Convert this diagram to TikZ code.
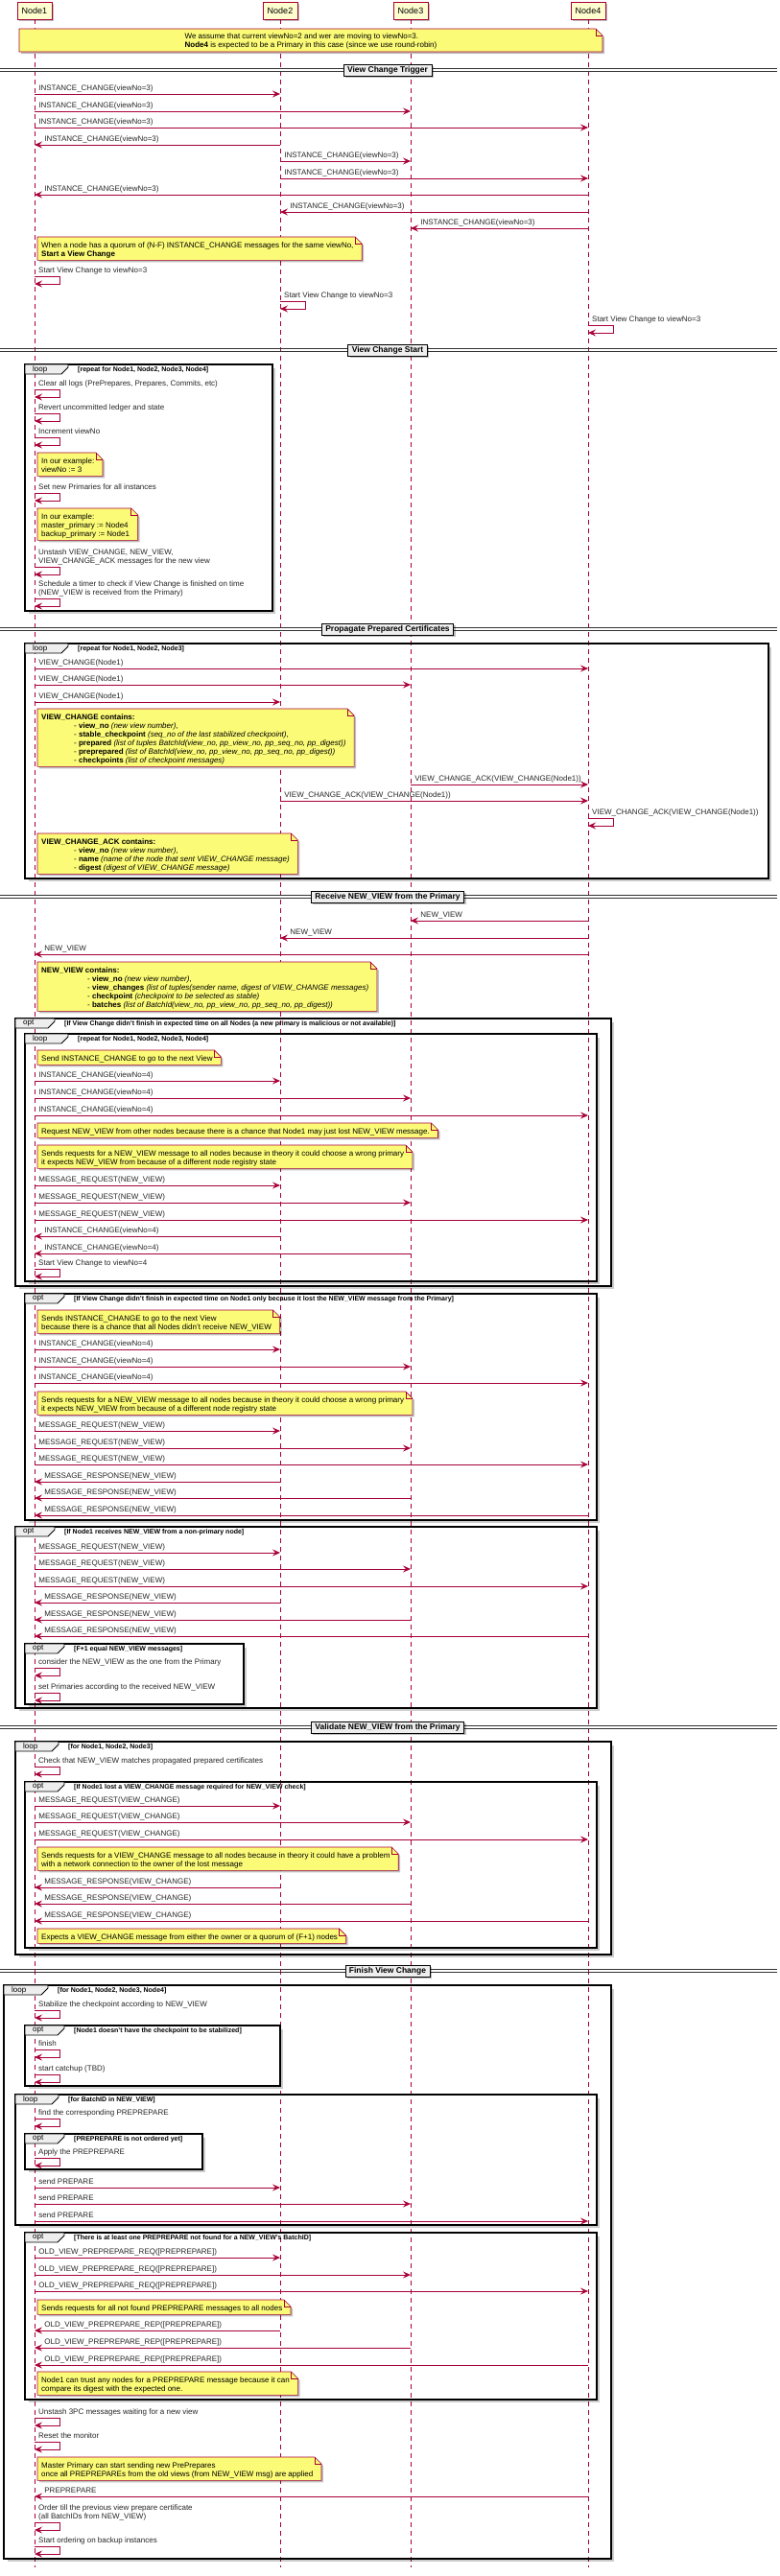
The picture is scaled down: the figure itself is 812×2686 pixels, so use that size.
\documentclass[tikz,border=0pt]{standalone}
\usepackage{fontspec}
\setmainfont{Liberation Sans}
\usetikzlibrary{arrows.meta,shadows,calc}

\definecolor{seqred}{HTML}{A80036}
\definecolor{partfill}{HTML}{FEFECE}
\definecolor{notefill}{HTML}{FBFB77}
\definecolor{groupfill}{HTML}{EEEEEE}

\pgfdeclarelayer{lifelines}
\pgfdeclarelayer{notes}
\pgfsetlayers{lifelines,notes,main}

\newcommand{\msgfont}{\fontsize{8}{9}\selectfont}
\newcommand{\condfont}{\fontsize{7}{8}\selectfont\bfseries}

\newcounter{msgno}
\newcounter{grpno}

\newcommand{\msgr}[4]{%
  \stepcounter{msgno}%
  \draw[msg] (#2 |- 0,#1) -- (#3 |- 0,#1)
    node[msglabel, pos=0, xshift=4pt] (t\arabic{msgno}) {#4\strut};}
\newcommand{\msgl}[4]{%
  \stepcounter{msgno}%
  \draw[msg] (#2 |- 0,#1) -- (#3 |- 0,#1)
    node[msglabel, pos=1, xshift=10pt] (t\arabic{msgno}) {#4\strut};}
\newcommand{\selfmsg}[3]{%
  \stepcounter{msgno}%
  \coordinate (s\arabic{msgno}) at (#2 |- 0,#1);
  \draw[msg] (s\arabic{msgno}) -- ++(26,0) -- ++(0,8) -- ++(-26,0);
  \node[msglabel, align=left] (t\arabic{msgno}) at ([xshift=4pt]s\arabic{msgno}) {#3\strut};}
\newcommand{\notebox}[4]{%
  \node[notetext] (#3) at (#1+4,#2+5) {\strut#4\strut};
  \begin{pgfonlayer}{notes}
  \filldraw[note] let \p1=(#3.south east), \p2=(#1,#2) in
    (\x2,\y2) -- (\x1+1.5pt,\y2) -- (\x1+8.5pt,\y2-7pt) -- (\x1+8.5pt,\y1-1pt) -- (\x2,\y1-1pt) -- cycle;
  \draw[notefold] let \p1=(#3.south east), \p2=(#1,#2) in
    (\x1+1.5pt,\y2) -- (\x1+1.5pt,\y2-7pt) -- (\x1+8.5pt,\y2-7pt);
  \end{pgfonlayer}}
\newcommand{\groupbox}[7]{%
  \stepcounter{grpno}%
  \fill[groupshade] (#3,#2+4) rectangle (#3+3,#4+3);
  \fill[groupshade] (#1+4,#4) rectangle (#3,#4+3);
  \draw[groupline] (#1,#2) rectangle (#3,#4);
  \filldraw[grouptab] (#1,#2) -- (#1+#6,#2) -- (#1+#6,#2+3) -- (#1+#6-7,#2+10) -- (#1,#2+10) -- cycle;
  \node[anchor=west, inner sep=0pt, font=\msgfont] (g\arabic{grpno}k) at (#1+8,#2+5) {#5};
  \node[anchor=west, inner sep=0pt, font=\condfont] (g\arabic{grpno}c) at (#1+#6+10,#2+5.5) {#7};}
\newcommand{\divider}[3]{%
  \draw[sepline] (0,#1-1.3) -- (810,#1-1.3);
  \draw[sepline] (0,#1+1.3) -- (810,#1+1.3);
  \node[sepbox] (#2) at (404,#1) {#3};}

\begin{document}
\begin{tikzpicture}[x=1pt, y=-1pt,
  participant/.style={draw=seqred, fill=partfill, line width=0.8pt, minimum width=36pt, minimum height=18pt, inner sep=1pt, font=\fontsize{9}{10}\selectfont, drop shadow={shadow xshift=2pt, shadow yshift=-2pt, fill=black, opacity=0.25}},
  lifeline/.style={seqred, line width=0.6pt, dash pattern=on 5pt off 4pt},
  msg/.style={seqred, line width=0.8pt, -{Stealth[length=8pt, width=7pt, inset=3pt]}},
  msglabel/.style={anchor=south west, inner sep=0pt, yshift=0.3pt, text=black!85, font=\msgfont},
  note/.style={fill=notefill, draw=seqred, line width=0.6pt, drop shadow={shadow xshift=2pt, shadow yshift=-2pt, fill=black, opacity=0.25}},
  notefold/.style={draw=seqred, line width=0.6pt},
  notetext/.style={anchor=north west, inner sep=0pt, align=left, font=\msgfont},
  groupline/.style={draw=black, line width=1.4pt},
  grouptab/.style={fill=groupfill, draw=black, line width=0.8pt},
  groupshade/.style={fill=black, opacity=0.2},
  sepline/.style={black!80, line width=0.7pt},
  sepbox/.style={fill=groupfill, draw=black, line width=0.8pt, inner xsep=4pt, inner ysep=2pt, minimum height=12pt, font=\fontsize{8.5}{10}\selectfont\bfseries, drop shadow={shadow xshift=2pt, shadow yshift=-2pt, fill=black, opacity=0.25}}]
\useasboundingbox (0,0) rectangle (812,2686);

\node[participant] (n1) at (36,11) {Node1};
\node[participant] (n2) at (292,11) {Node2};
\node[participant] (n3) at (428,11) {Node3};
\node[participant] (n4) at (613,11) {Node4};
\begin{pgfonlayer}{lifelines}
\foreach \n in {n1,n2,n3,n4}
  \draw[lifeline] (\n.south) -- (\n |- 0,2677);
\end{pgfonlayer}

\node[notetext, anchor=center] (assume) at (324,43.5) {\strut We assume that current viewNo=2 and wer are moving to viewNo=3.\\\textbf{Node4} is expected to be a Primary in this case (since we use round-robin)\strut};
\begin{pgfonlayer}{notes}
\filldraw[note] (20,30) -- (621,30) -- (628,37) -- (628,54) -- (20,54) -- cycle;
\draw[notefold] (621,30) -- (621,37) -- (628,37);
\end{pgfonlayer}

\divider{73}{trigger}{View Change Trigger}
\msgr{98}{n1}{n2}{INSTANCE\_CHANGE(viewNo=3)}
\msgr{116}{n1}{n3}{INSTANCE\_CHANGE(viewNo=3)}
\msgr{133}{n1}{n4}{INSTANCE\_CHANGE(viewNo=3)}
\msgl{151}{n2}{n1}{INSTANCE\_CHANGE(viewNo=3)}
\msgr{168}{n2}{n3}{INSTANCE\_CHANGE(viewNo=3)}
\msgr{186}{n2}{n4}{INSTANCE\_CHANGE(viewNo=3)}
\msgl{203}{n4}{n1}{INSTANCE\_CHANGE(viewNo=3)}
\msgl{221}{n4}{n2}{INSTANCE\_CHANGE(viewNo=3)}
\msgl{238}{n4}{n3}{INSTANCE\_CHANGE(viewNo=3)}
\notebox{39}{247}{quorum}{When a node has a quorum of (N-F) INSTANCE\_CHANGE messages for the same viewNo,\\\textbf{Start a View Change}}
\selfmsg{288}{n1}{Start View Change to viewNo=3}
\selfmsg{314}{n2}{Start View Change to viewNo=3}
\selfmsg{339}{n4}{Start View Change to viewNo=3}

\divider{365}{vcstart}{View Change Start}
\groupbox{26}{380}{284}{637}{loop}{45}{[repeat for Node1, Node2, Node3, Node4]}
\selfmsg{406}{n1}{Clear all logs (PrePrepares, Prepares, Commits, etc)}
\selfmsg{431}{n1}{Revert uncommitted ledger and state}
\selfmsg{456}{n1}{Increment viewNo}
\notebox{39}{472}{exview}{In our example:\\viewNo := 3}
\selfmsg{514}{n1}{Set new Primaries for all instances}
\notebox{39}{530}{exprim}{In our example:\\master\_primary := Node4\\backup\_primary := Node1}
\selfmsg{591}{n1}{Unstash VIEW\_CHANGE, NEW\_VIEW,\\VIEW\_CHANGE\_ACK messages for the new view}
\selfmsg{624}{n1}{Schedule a timer to check if View Change is finished on time\\(NEW\_VIEW is received from the Primary)}

\divider{656}{propagate}{Propagate Prepared Certificates}
\groupbox{26}{671}{801}{916}{loop}{45}{[repeat for Node1, Node2, Node3]}
\msgr{697}{n1}{n4}{VIEW\_CHANGE(Node1)}
\msgr{714}{n1}{n3}{VIEW\_CHANGE(Node1)}
\msgr{732}{n1}{n2}{VIEW\_CHANGE(Node1)}
\notebox{39}{739}{vcinfo}{\textbf{VIEW\_CHANGE contains:}\\
\hspace*{34pt}- \textbf{view\_no} \textit{(new view number)},\\
\hspace*{34pt}- \textbf{stable\_checkpoint} \textit{(seq\_no of the last stabilized checkpoint)},\\
\hspace*{34pt}- \textbf{prepared} \textit{(list of tuples BatchId(view\_no, pp\_view\_no, pp\_seq\_no, pp\_digest))}\\
\hspace*{34pt}- \textbf{preprepared} \textit{(list of BatchId(view\_no, pp\_view\_no, pp\_seq\_no, pp\_digest))}\\
\hspace*{34pt}- \textbf{checkpoints} \textit{(list of checkpoint messages)}}
\msgr{818}{n3}{n4}{VIEW\_CHANGE\_ACK(VIEW\_CHANGE(Node1))}
\msgr{835}{n2}{n4}{VIEW\_CHANGE\_ACK(VIEW\_CHANGE(Node1))}
\selfmsg{853}{n4}{VIEW\_CHANGE\_ACK(VIEW\_CHANGE(Node1))}
\notebox{39}{869}{ackinfo}{\textbf{VIEW\_CHANGE\_ACK contains:}\\
\hspace*{34pt}- \textbf{view\_no} \textit{(new view number)},\\
\hspace*{34pt}- \textbf{name} \textit{(name of the node that sent VIEW\_CHANGE message)}\\
\hspace*{34pt}- \textbf{digest} \textit{(digest of VIEW\_CHANGE message)}}

\divider{935}{receive}{Receive NEW\_VIEW from the Primary}
\msgl{960}{n4}{n3}{NEW\_VIEW}
\msgl{978}{n4}{n2}{NEW\_VIEW}
\msgl{995}{n4}{n1}{NEW\_VIEW}
\notebox{39}{1003}{nvinfo}{\textbf{NEW\_VIEW contains:}\\
\hspace*{48pt}- \textbf{view\_no} \textit{(new view number)},\\
\hspace*{48pt}- \textbf{view\_changes} \textit{(list of tuples(sender name, digest of VIEW\_CHANGE messages)}\\
\hspace*{48pt}- \textbf{checkpoint} \textit{(checkpoint to be selected as stable)}\\
\hspace*{48pt}- \textbf{batches} \textit{(list of BatchId(view\_no, pp\_view\_no, pp\_seq\_no, pp\_digest))}}
\groupbox{16}{1062}{637}{1341}{opt}{41}{[If View Change didn't finish in expected time on all Nodes (a new primary is malicious or not available)]}
\groupbox{26}{1078}{622}{1336}{loop}{45}{[repeat for Node1, Node2, Node3, Node4]}
\notebox{39}{1095}{sendic}{Send INSTANCE\_CHANGE to go to the next View}
\msgr{1127}{n1}{n2}{INSTANCE\_CHANGE(viewNo=4)}
\msgr{1145}{n1}{n3}{INSTANCE\_CHANGE(viewNo=4)}
\msgr{1163}{n1}{n4}{INSTANCE\_CHANGE(viewNo=4)}
\notebox{39}{1171}{reqnv}{Request NEW\_VIEW from other nodes because there is a chance that Node1 may just lost NEW\_VIEW message.}
\notebox{39}{1194}{whynv}{Sends requests for a NEW\_VIEW message to all nodes because in theory it could choose a wrong primary\\it expects NEW\_VIEW from because of a different node registry state}
\msgr{1236}{n1}{n2}{MESSAGE\_REQUEST(NEW\_VIEW)}
\msgr{1254}{n1}{n3}{MESSAGE\_REQUEST(NEW\_VIEW)}
\msgr{1272}{n1}{n4}{MESSAGE\_REQUEST(NEW\_VIEW)}
\msgl{1289}{n2}{n1}{INSTANCE\_CHANGE(viewNo=4)}
\msgl{1307}{n3}{n1}{INSTANCE\_CHANGE(viewNo=4)}
\selfmsg{1323}{n1}{Start View Change to viewNo=4}

\groupbox{26}{1349}{622}{1585}{opt}{41}{[If View Change didn't finish in expected time on Node1 only because it lost the NEW\_VIEW message from the Primary]}
\notebox{39}{1366}{sendic2}{Sends INSTANCE\_CHANGE to go to the next View\\because there is a chance that all Nodes didn't receive NEW\_VIEW}
\msgr{1407}{n1}{n2}{INSTANCE\_CHANGE(viewNo=4)}
\msgr{1425}{n1}{n3}{INSTANCE\_CHANGE(viewNo=4)}
\msgr{1442}{n1}{n4}{INSTANCE\_CHANGE(viewNo=4)}
\notebox{39}{1451}{whynv2}{Sends requests for a NEW\_VIEW message to all nodes because in theory it could choose a wrong primary\\it expects NEW\_VIEW from because of a different node registry state}
\msgr{1492}{n1}{n2}{MESSAGE\_REQUEST(NEW\_VIEW)}
\msgr{1510}{n1}{n3}{MESSAGE\_REQUEST(NEW\_VIEW)}
\msgr{1527}{n1}{n4}{MESSAGE\_REQUEST(NEW\_VIEW)}
\msgl{1545}{n2}{n1}{MESSAGE\_RESPONSE(NEW\_VIEW)}
\msgl{1562}{n3}{n1}{MESSAGE\_RESPONSE(NEW\_VIEW)}
\msgl{1580}{n4}{n1}{MESSAGE\_RESPONSE(NEW\_VIEW)}

\groupbox{16}{1592}{622}{1781}{opt}{41}{[If Node1 receives NEW\_VIEW from a non-primary node]}
\msgr{1619}{n1}{n2}{MESSAGE\_REQUEST(NEW\_VIEW)}
\msgr{1636}{n1}{n3}{MESSAGE\_REQUEST(NEW\_VIEW)}
\msgr{1654}{n1}{n4}{MESSAGE\_REQUEST(NEW\_VIEW)}
\msgl{1671}{n2}{n1}{MESSAGE\_RESPONSE(NEW\_VIEW)}
\msgl{1689}{n3}{n1}{MESSAGE\_RESPONSE(NEW\_VIEW)}
\msgl{1706}{n4}{n1}{MESSAGE\_RESPONSE(NEW\_VIEW)}
\groupbox{26}{1714}{254}{1777}{opt}{41}{[F+1 equal NEW\_VIEW messages]}
\selfmsg{1739}{n1}{consider the NEW\_VIEW as the one from the Primary}
\selfmsg{1765}{n1}{set Primaries according to the received NEW\_VIEW}

\divider{1801}{validate}{Validate NEW\_VIEW from the Primary}
\groupbox{16}{1816}{637}{2038}{loop}{45}{[for Node1, Node2, Node3]}
\selfmsg{1842}{n1}{Check that NEW\_VIEW matches propagated prepared certificates}
\groupbox{26}{1858}{622}{2031}{opt}{41}{[If Node1 lost a VIEW\_CHANGE message required for NEW\_VIEW check]}
\msgr{1883}{n1}{n2}{MESSAGE\_REQUEST(VIEW\_CHANGE)}
\msgr{1900}{n1}{n3}{MESSAGE\_REQUEST(VIEW\_CHANGE)}
\msgr{1918}{n1}{n4}{MESSAGE\_REQUEST(VIEW\_CHANGE)}
\notebox{39}{1926}{whyvc}{Sends requests for a VIEW\_CHANGE message to all nodes because in theory it could have a problem\\with a network connection to the owner of the lost message}
\msgl{1968}{n2}{n1}{MESSAGE\_RESPONSE(VIEW\_CHANGE)}
\msgl{1985}{n3}{n1}{MESSAGE\_RESPONSE(VIEW\_CHANGE)}
\msgl{2003}{n4}{n1}{MESSAGE\_RESPONSE(VIEW\_CHANGE)}
\notebox{39}{2011}{expvc}{Expects a VIEW\_CHANGE message from either the owner or a quorum of (F+1) nodes}

\divider{2055}{finish}{Finish View Change}
\groupbox{4}{2070}{637}{2668}{loop}{46}{[for Node1, Node2, Node3, Node4]}
\selfmsg{2096}{n1}{Stabilize the checkpoint according to NEW\_VIEW}
\groupbox{26}{2112}{292}{2175}{opt}{41}{[Node1 doesn't have the checkpoint to be stabilized]}
\selfmsg{2137}{n1}{finish}
\selfmsg{2163}{n1}{start catchup (TBD)}
\groupbox{16}{2184}{622}{2320}{loop}{45}{[for BatchID in NEW\_VIEW]}
\selfmsg{2209}{n1}{find the corresponding PREPREPARE}
\groupbox{26}{2225}{211}{2262}{opt}{41}{[PREPREPARE is not ordered yet]}
\selfmsg{2250}{n1}{Apply the PREPREPARE}
\msgr{2281}{n1}{n2}{send PREPARE}
\msgr{2298}{n1}{n3}{send PREPARE}
\msgr{2316}{n1}{n4}{send PREPARE}
\groupbox{26}{2328}{622}{2502}{opt}{41}{[There is at least one PREPREPARE not found for a NEW\_VIEW's BatchID]}
\msgr{2354}{n1}{n2}{OLD\_VIEW\_PREPREPARE\_REQ([PREPREPARE])}
\msgr{2372}{n1}{n3}{OLD\_VIEW\_PREPREPARE\_REQ([PREPREPARE])}
\msgr{2389}{n1}{n4}{OLD\_VIEW\_PREPREPARE\_REQ([PREPREPARE])}
\notebox{39}{2398}{reqpp}{Sends requests for all not found PREPREPARE messages to all nodes}
\msgl{2430}{n2}{n1}{OLD\_VIEW\_PREPREPARE\_REP([PREPREPARE])}
\msgl{2448}{n3}{n1}{OLD\_VIEW\_PREPREPARE\_REP([PREPREPARE])}
\msgl{2466}{n4}{n1}{OLD\_VIEW\_PREPREPARE\_REP([PREPREPARE])}
\notebox{39}{2473}{trustpp}{Node1 can trust any nodes for a PREPREPARE message because it can\\compare its digest with the expected one.}
\selfmsg{2521}{n1}{Unstash 3PC messages waiting for a new view}
\selfmsg{2546}{n1}{Reset the monitor}
\notebox{39}{2562}{masterpp}{Master Primary can start sending new PrePrepares\\once all PREPREPAREs from the old views (from NEW\_VIEW msg) are applied}
\msgl{2603}{n4}{n1}{PREPREPARE}
\selfmsg{2630}{n1}{Order till the previous view prepare certificate\\(all BatchIDs from NEW\_VIEW)}
\selfmsg{2655}{n1}{Start ordering on backup instances}
\end{tikzpicture}
\end{document}
